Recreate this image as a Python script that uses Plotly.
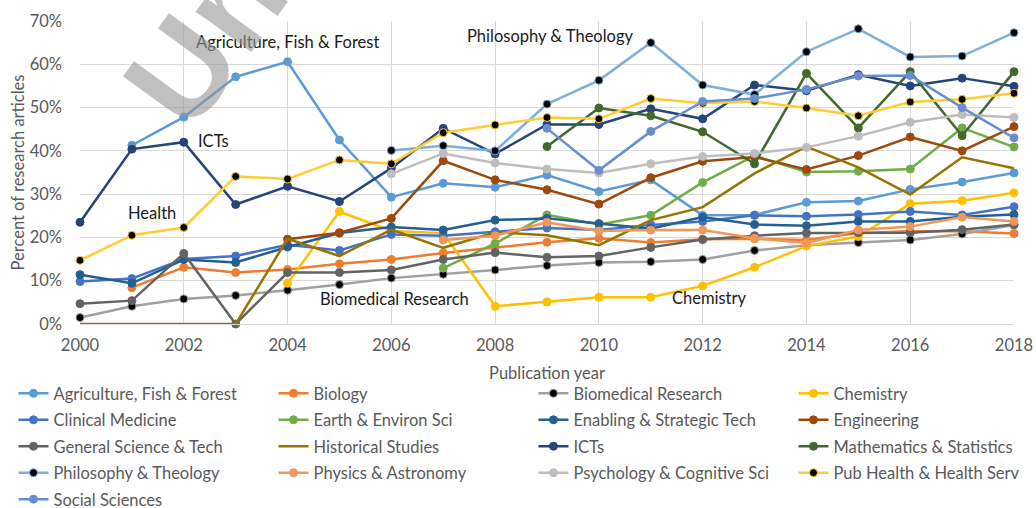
import plotly.graph_objects as go

years = list(range(2000, 2019))
N = None

series_names = [
    "Agriculture, Fish & Forest", "Biology", "Biomedical Research", "Chemistry",
    "Clinical Medicine", "Earth & Environ Sci", "Enabling & Strategic Tech", "Engineering",
    "General Science & Tech", "Historical Studies", "ICTs", "Mathematics & Statistics",
    "Philosophy & Theology", "Physics & Astronomy", "Psychology & Cognitive Sci", "Pub Health & Health Serv",
    "Social Sciences",
]

agri = [N, 41.3, 47.8, 57.1, 60.6, 42.5, 29.3, 32.5, 31.6, 34.4, 30.6, 33.3, 25.1, 25.2, 28.1, 28.4, 31.1, 32.8, 34.9]
biology = [N, 8.4, 13.1, 11.9, 12.6, 13.9, 14.9, 16.4, 17.7, 18.9, 19.8, 18.8, 19.6, 19.7, 19.4, 21.0, 21.4, 21.4, 20.9]
biomed = [1.5, 4.1, 5.8, 6.6, 7.8, 9.1, 10.6, 11.5, 12.5, 13.5, 14.2, 14.4, 14.9, 17.0, 18.2, 18.8, 19.4, 20.8, 22.9]
chem = [N, N, N, N, 9.4, 26.0, 21.5, 21.0, 4.1, 5.1, 6.2, 6.2, 8.8, 13.1, 18.0, 20.2, 27.8, 28.5, 30.3]
clinical = [9.8, 10.5, 15.0, 15.7, 18.3, 17.0, 20.7, 20.4, 21.3, 22.2, 21.7, 22.9, 23.7, 25.1, 24.9, 25.3, 26.0, 25.2, 27.1]
earth = [N, N, N, N, N, N, N, 12.9, 18.6, 25.2, 23.0, 25.1, 32.7, 38.9, 35.1, 35.3, 35.8, 45.3, 40.9]
enabling = [11.4, 9.4, 14.9, 14.2, 17.8, 21.0, 22.4, 21.7, 24.0, 24.4, 23.2, 22.0, 24.7, 23.0, 22.7, 23.7, 23.7, 24.8, 25.3]
engineering = [N, N, N, N, 19.6, 21.1, 24.4, 37.7, 33.3, 31.0, 27.7, 33.8, 37.6, 38.6, 35.7, 38.9, 43.2, 40.0, 45.6]
general = [4.7, 5.4, 16.3, 0.0, 11.9, 11.9, 12.5, 14.9, 16.5, 15.4, 15.7, 17.7, 19.5, 20.4, 21.0, 21.1, 21.1, 21.8, 23.0]
historical = [0.0, 0.0, 0.0, 0.0, 19.7, 15.7, 21.8, 17.6, 21.2, 20.5, 18.2, 24.0, 27.0, 34.8, 41.0, 36.2, 29.9, 38.5, 36.0]
icts = [23.5, 40.4, 42.0, 27.6, 31.8, 28.3, 36.0, 45.2, 39.3, 46.1, 46.1, 49.7, 47.4, 55.2, 53.9, 57.6, 55.0, 56.8, 54.9]
maths = [N, N, N, N, N, N, N, N, N, 41.0, 49.9, 48.1, 44.4, 37.0, 57.9, 45.3, 58.3, 43.5, 58.3]
philosophy = [N, N, N, N, N, N, 40.1, 41.2, 40.0, 50.8, 56.3, 65.0, 55.2, 53.0, 62.9, 68.2, 61.7, 61.9, 67.3]
physics = [N, N, N, N, N, N, N, 19.4, 20.4, 23.5, 21.5, 21.7, 21.7, 19.8, 18.7, 21.7, 22.5, 24.7, 23.7]
psych = [N, N, N, N, N, N, 34.7, 39.4, 37.2, 35.8, 34.9, 37.0, 38.7, 39.4, 40.8, 43.4, 46.6, 48.4, 47.7]
pubhealth = [14.7, 20.5, 22.3, 34.1, 33.5, 37.9, 37.0, 44.2, 46.0, 47.7, 47.4, 52.1, 51.0, 51.4, 49.9, 48.1, 51.3, 51.9, 53.3]
social = [N, N, N, N, N, N, N, N, N, 45.2, 35.5, 44.5, 51.4, 52.1, 54.2, 57.3, 57.4, 50.0, 43.0]

series_values = [agri, biology, biomed, chem, clinical, earth, enabling, engineering,
                 general, historical, icts, maths, philosophy, physics, psych, pubhealth, social]

line_colors = ["#5B9BD5", "#ED7D31", "#A0A0A0", "#FFC000", "#4472C4", "#70AD47", "#255E91", "#9E480E",
               "#636363", "#997300", "#264478", "#43682B", "#7CAFDD", "#F1975A", "#BDBDBD", "#FFCD33",
               "#698ED0"]
marker_fill = list(line_colors)
marker_fill[2] = "#000000"
marker_fill[12] = "#000000"
marker_fill[15] = "#000000"
no_marker = {9}

y_ticks = [0, 10, 20, 30, 40, 50, 60, 70]
y_tick_labels = ["0%", "10%", "20%", "30%", "40%", "50%", "60%", "70%"]
x_ticks = list(range(2000, 2019, 2))

label_texts = ["Agriculture, Fish & Forest", "Philosophy & Theology", "ICTs", "Health",
               "Biomedical Research", "Chemistry"]
label_x = [2004.0, 2009.05, 2002.57, 2001.39, 2006.06, 2012.14]
label_y = [65.2, 66.5, 42.3, 25.7, 5.8, 6.1]

FONT = "Lato"
GRAY = "#595959"
FS = 16.5

fig = go.Figure()
legend_ids = ["legend", "legend2", "legend3", "legend4"]
for i, (name, vals) in enumerate(zip(series_names, series_values)):
    mode = "lines" if i in no_marker else "lines+markers"
    fig.add_trace(go.Scatter(
        x=years, y=vals, name=name, mode=mode,
        line=dict(color=line_colors[i], width=2.5),
        marker=dict(size=8, color=marker_fill[i], line=dict(color=line_colors[i], width=1)),
        cliponaxis=False, connectgaps=False,
        legend=legend_ids[i % 4], legendgroup="g%d" % i,
        showlegend=True,
    ))

annotations = []
for t, x, y in zip(label_texts, label_x, label_y):
    annotations.append(dict(text=t, x=x, y=y, xref="x", yref="y", showarrow=False,
                            font=dict(family=FONT, size=FS, color="#1a1a1a")))
# watermark (partially off-canvas)
annotations.append(dict(text="<b>Un</b>", x=0.134, y=0.940, xref="paper", yref="paper",
                        showarrow=False, textangle=-54, xanchor="center", yanchor="middle",
                        font=dict(family="Liberation Sans", size=130, color="rgba(150,150,150,0.6)")))

leg_common = dict(orientation="v", xanchor="left", yanchor="top", bgcolor="rgba(0,0,0,0)",
                  font=dict(family=FONT, size=FS, color=GRAY), tracegroupgap=2,
                  itemwidth=30, traceorder="grouped")
leg_x = [-0.0712, 0.2072, 0.4855, 0.7639]
leg_y = -0.172

layout_legends = {}
for lid, lx in zip(legend_ids, leg_x):
    layout_legends[lid] = dict(leg_common, x=lx, y=leg_y)

fig.update_layout(
    width=1036, height=508,
    margin=dict(l=80, r=22, t=21, b=184, autoexpand=False),
    paper_bgcolor="white", plot_bgcolor="white",
    font=dict(family=FONT, size=FS, color=GRAY),
    annotations=annotations,
    xaxis=dict(range=[2000, 2018], tickvals=x_ticks, showgrid=True, gridcolor="#D9D9D9", gridwidth=1,
               showline=True, linecolor="#D9D9D9", linewidth=1, zeroline=False, ticks="",
               tickfont=dict(family=FONT, size=FS, color=GRAY), ticklabelstandoff=6,
               title=dict(text="Publication year", font=dict(family=FONT, size=FS, color=GRAY), standoff=13)),
    yaxis=dict(range=[0, 70], tickmode="array", tickvals=y_ticks, ticktext=y_tick_labels, showgrid=True,
               gridcolor="#D9D9D9", gridwidth=1, zeroline=False, showline=False, ticks="",
               tickfont=dict(family=FONT, size=FS, color=GRAY), ticklabelstandoff=17,
               title=dict(text="Percent of research articles", font=dict(family=FONT, size=FS, color=GRAY),
                          standoff=0)),
    **layout_legends,
)

fig.write_html("out.html", post_script="document.body.style.margin='0px';",
               config={"displayModeBar": False})
